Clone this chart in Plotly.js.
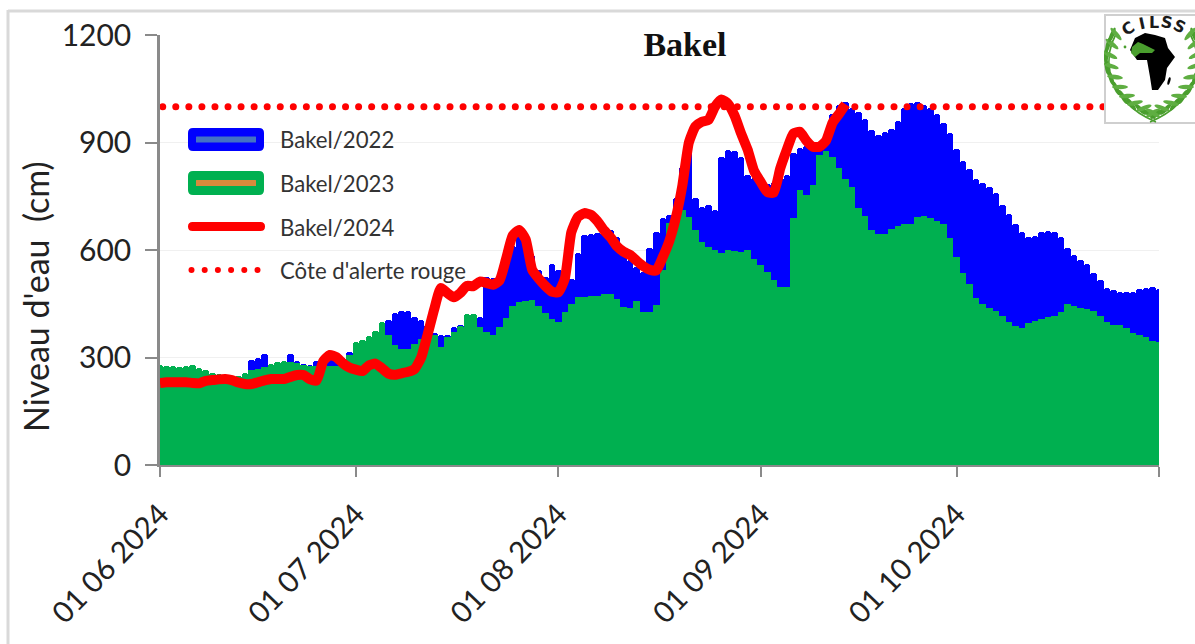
<!DOCTYPE html>
<html>
<head>
<meta charset="utf-8">
<script src="https://cdn.plot.ly/plotly-3.0.1.min.js"></script>
<style>html,body{margin:0;padding:0;background:#fff;overflow:hidden}#c{width:1195px;height:644px}</style>
</head>
<body>
<div id="c"></div>
<script>
const seriesNames = ["Bakel/2022", "Bakel/2023", "Bakel/2024", "Côte d'alerte rouge"];
const tickDates = ["2024-06-01", "2024-07-01", "2024-08-01", "2024-09-01", "2024-10-01", "2024-11-01"];
const tickLabels = ["01 06 2024", "01 07 2024", "01 08 2024", "01 09 2024", "01 10 2024", ""];
const alertLevel = 1000;

const bakel2022 = [
null,null,null,null,null,null,null,null,null,null,
null,null,null,240,293,298,310,270,270,280,
310,290,283,280,290,300,300,300,300,316,
310,320,325,340,380,405,424,431,431,413,
405,390,368,362,362,385,390,380,380,414,
525,522,530,560,610,640,640,585,544,525,
561,545,516,518,592,642,646,648,650,656,
635,590,572,553,539,605,651,689,697,745,
831,884,745,721,726,711,860,880,877,860,
810,800,790,785,790,800,810,870,884,890,
893,900,905,980,1005,1013,996,985,965,935,
920,930,938,960,995,1010,1013,1005,995,980,
955,926,881,848,825,797,787,775,760,725,
700,672,650,637,640,650,652,650,635,605,
586,572,560,535,515,495,487,483,483,483,
490,495,498,492];

const bakel2023 = [
279,277,275,274,277,278,271,264,258,254,
249,245,247,256,264,269,274,282,288,291,
288,284,279,276,276,278,277,277,285,308,
342,350,360,375,400,362,335,323,325,338,
352,363,364,329,358,370,388,422,421,386,
372,362,384,410,445,455,458,460,444,425,
408,398,428,450,468,470,471,473,476,477,
462,442,438,458,428,426,446,544,675,692,
711,693,656,623,609,600,592,600,598,595,
600,575,558,539,516,497,497,689,767,753,
781,865,877,860,829,798,776,717,695,656,
644,644,660,668,672,672,692,695,690,682,
672,633,581,537,505,465,450,438,430,415,
400,388,381,395,403,407,412,416,428,450,
445,438,435,430,415,398,390,392,382,368,
362,356,347,344];

const bakel2024 = [
229,231,231,231,231,229,228,235,237,239,
240,237,230,226,226,231,236,240,240,240,
246,251,251,239,236,290,307,301,284,272,
266,262,278,283,270,255,252,256,260,268,
300,365,435,494,480,468,480,500,499,512,
508,503,515,575,640,656,630,545,520,500,
484,482,520,650,692,703,698,680,655,635,
610,595,586,570,555,545,543,580,625,690,
780,900,945,958,963,1000,1020,1008,975,925,
880,820,790,762,760,828,880,925,930,905,
888,888,905,955,980,1007];

const dayOf = d => new Date(Date.UTC(2024, 5, 1 + d)).toISOString().slice(0, 10);
const days = bakel2023.map((_, d) => dayOf(d));
const days2024 = bakel2024.map((_, d) => dayOf(d));
const alertX = [], alertY = [];
for (let d = 0; d < 154; d += 2) { alertX.push(dayOf(d) + " 10:00"); alertY.push(alertLevel); }

// page-pixel helpers for the decorations that sit outside the data scales
const L = 160, R = 1159, T = 35, B = 465;
const px = x => (x - L) / (R - L), py = y => (B - y) / (B - T);
const pill = (x0, x1, y0, y1, r) =>
  `M${px(x0 + r)},${py(y0)} L${px(x1 - r)},${py(y0)} Q${px(x1)},${py(y0)} ${px(x1)},${py(y0 + r)} ` +
  `L${px(x1)},${py(y1 - r)} Q${px(x1)},${py(y1)} ${px(x1 - r)},${py(y1)} L${px(x0 + r)},${py(y1)} ` +
  `Q${px(x0)},${py(y1)} ${px(x0)},${py(y1 - r)} L${px(x0)},${py(y0 + r)} Q${px(x0)},${py(y0)} ${px(x0 + r)},${py(y0)} Z`;
const pShape = (path, fill) => ({type: "path", xref: "paper", yref: "paper", path, fillcolor: fill, line: {width: 0}, layer: "above"});
const lShape = (x0, y0, x1, y1, color, width) => ({type: "line", xref: "paper", yref: "paper",
  x0: px(x0), y0: py(y0), x1: px(x1), y1: py(y1), line: {color, width}, layer: "above"});

const shapes = [
  lShape(8, 11, 1195, 11, "#d9d9d9", 3),
  lShape(8, 10, 8, 644, "#d9d9d9", 3),
  pShape(pill(188, 264, 128, 151, 5), "#0000ff"),
  pShape(pill(196, 256, 136.5, 142.5, 0.5), "#4472c4"),
  pShape(pill(188, 264, 171, 195, 5), "#00b050"),
  pShape(pill(196, 256, 180, 186, 0.5), "#d98a3c"),
  pShape(pill(188, 265, 222, 231, 4.5), "#ff0000")
];
for (let i = 0; i < 6; i++) {
  const cx = 191.5 + i * 13.2;
  shapes.push({type: "circle", xref: "paper", yref: "paper", x0: px(cx - 3), x1: px(cx + 3), y0: py(270 + 3), y1: py(270 - 3),
    fillcolor: "#ff0000", line: {width: 0}, layer: "above"});
}

const legendRows = [139, 183, 227, 270];
const annotations = seriesNames.map((t, i) => ({
  text: t, xref: "paper", yref: "paper", x: px(278), y: py(legendRows[i]), xanchor: "left", yanchor: "middle",
  showarrow: false, font: {family: "Lato, sans-serif", size: 22.2, color: "#333333"}
}));
annotations.push({text: "Niveau d'eau\u00a0\u00a0(cm)", xref: "paper", yref: "paper", x: px(35), y: py(296), xanchor: "center", yanchor: "middle",
  textangle: -90, showarrow: false, font: {family: "Lato, sans-serif", size: 34, color: "#222222"}});
[["C", 1128, 28, -32], ["I", 1142, 23, -12], ["L", 1154, 22, 0], ["S", 1167, 22, 12], ["S", 1180, 26, 26]].forEach(a => {
  annotations.push({text: "<b>" + a[0] + "</b>", xref: "paper", yref: "paper", x: px(a[1]), y: py(a[2]),
    xanchor: "center", yanchor: "middle", textangle: a[3], showarrow: false,
    font: {family: "DejaVu Sans, sans-serif", size: 16, color: "#1a1a1a"}});
});

// CILSS emblem, drawn as a small vector picture
function leaves(mirror) {
  const pts = [[47,104,-60],[38,99,-50],[29,94,-42],[21,87,-35],[14,78,-30],[9,68,-22],[5,57,-12],[4,46,-4],[6,35,8],[10,25,18]];
  let s = `<g transform="${mirror ? "translate(98,0) scale(-1,1)" : ""}">`;
  s += `<path d="M52,108 Q14,92 6,58 Q2,38 12,20" fill="none" stroke="#4a9e2e" stroke-width="1.6"/>`;
  for (const p of pts) {
    s += `<ellipse cx="${p[0] - 2}" cy="${p[1] - 4}" rx="8" ry="2.2" fill="#4a9e2e" transform="rotate(${p[2] + 95} ${p[0] - 2} ${p[1] - 4})"/>`;
    s += `<ellipse cx="${p[0] + 2}" cy="${p[1] - 5}" rx="8" ry="2.2" fill="#5fae42" transform="rotate(${p[2] + 30} ${p[0] + 2} ${p[1] - 5})"/>`;
  }
  return s + "</g>";
}
const emblem = `<svg xmlns="http://www.w3.org/2000/svg" width="91" height="110" viewBox="0 0 91 110">
<rect x="1" y="1" width="92" height="108" fill="#ffffff" stroke="#cfcfcf" stroke-width="2"/>
${leaves(false)}${leaves(true)}
<path d="M41,19 L51,21 L61,24 L64,34 L71,43 L63,54 L61,66 L54,76 L48,76 L46,63 L43,46 L33,46 L26,36 L31,24 Z" fill="#000"/>
<path d="M28,33 L34,28 L39,30 L51,36 L48,39 L36,39 L31,43 L27,39 Z" fill="#4a9e2e"/>
<circle cx="21" cy="33" r="1.4" fill="#4a9e2e"/>
<ellipse cx="65" cy="67" rx="1.3" ry="4" fill="#000" transform="rotate(15 65 67)"/>
</svg>`;

const traces = [
  {type: "bar", name: seriesNames[0], x: days, y: bakel2022, marker: {color: "#0000ff", cornerradius: 3, line: {width: 0}}, showlegend: false},
  {type: "bar", name: seriesNames[1], x: days, y: bakel2023, marker: {color: "#00b050", cornerradius: 3, line: {width: 0}}, showlegend: false},
  {type: "scatter", mode: "markers", name: seriesNames[3], x: alertX, y: alertY, marker: {color: "#ff0000", size: 7}, showlegend: false},
  {type: "scatter", mode: "lines", name: seriesNames[2], x: days2024, y: bakel2024,
   line: {color: "#ff0000", width: 10, shape: "spline", smoothing: 0.5}, showlegend: false}
];

const layout = {
  width: 1195, height: 644, autosize: false,
  margin: {l: L, r: 1195 - R, t: T, b: 644 - B, pad: 0},
  paper_bgcolor: "#ffffff", plot_bgcolor: "#ffffff",
  font: {family: "Lato, sans-serif", color: "#222222"},
  barmode: "overlay", bargap: 0,
  title: {text: "<b>Bakel</b>", x: 685 / 1195, xanchor: "center", y: 1 - 44 / 644, yanchor: "middle",
    font: {family: "Liberation Serif, serif", size: 34, color: "#111111"}},
  xaxis: {type: "date", range: ["2024-06-01", "2024-11-01"], tickmode: "array", tickvals: tickDates, ticktext: tickLabels,
    tickangle: -46, ticks: "outside", ticklen: 10, tickwidth: 2, tickcolor: "#8a8a8a", ticklabelstandoff: 8,
    showline: true, linecolor: "#8a8a8a", linewidth: 2, showgrid: false, zeroline: false,
    tickfont: {family: "Lato, sans-serif", size: 29.5, color: "#222222"}, automargin: false},
  yaxis: {range: [0, 1200], tickmode: "array", tickvals: [0, 300, 600, 900, 1200], ticks: "outside", ticklen: 12, tickwidth: 2,
    tickcolor: "#8a8a8a", showline: true, linecolor: "#8a8a8a", linewidth: 2.5, gridcolor: "#f0f0f0", gridwidth: 1, zeroline: false, ticklabelstandoff: 8,
    tickfont: {family: "Lato, sans-serif", size: 30, color: "#222222"}, automargin: false},
  shapes, annotations,
  images: [{source: "data:image/svg+xml;charset=utf-8," + encodeURIComponent(emblem), xref: "paper", yref: "paper",
    x: px(1104), y: py(14), sizex: 91 / (R - L), sizey: 110 / (B - T), xanchor: "left", yanchor: "top", layer: "above", sizing: "stretch"}]
};

Plotly.newPlot("c", traces, layout, {displayModeBar: false, responsive: false});
</script>
</body>
</html>
